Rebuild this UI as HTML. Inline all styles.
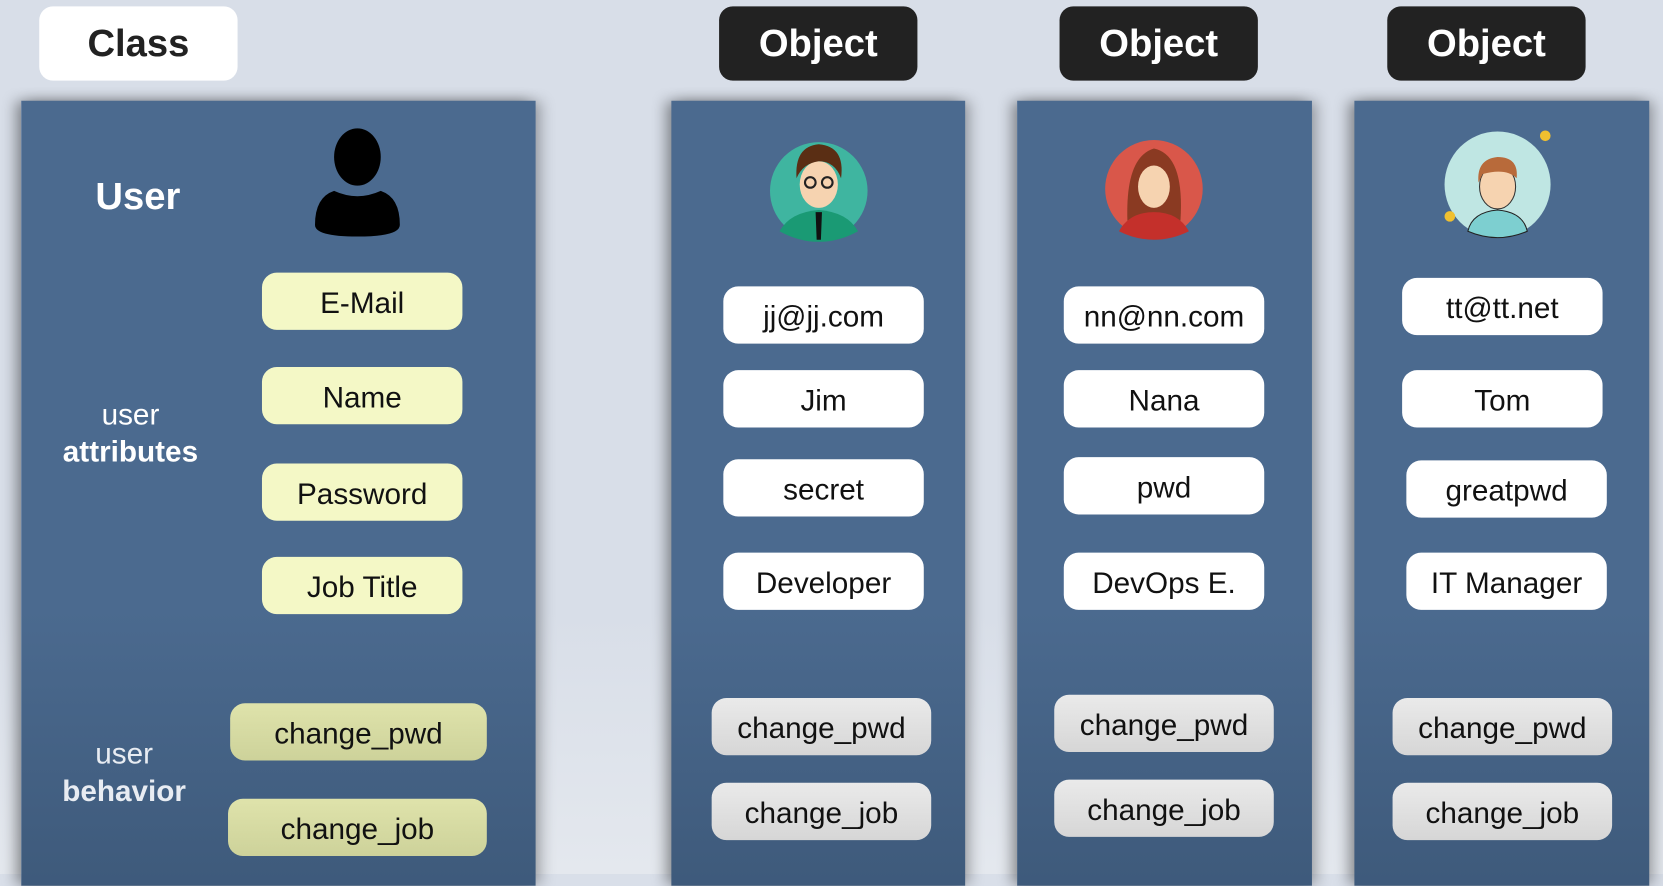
<!DOCTYPE html>
<html><head><meta charset="utf-8"><style>
*{margin:0;padding:0;box-sizing:border-box}
html,body{width:1663px;height:874px;overflow:hidden;background:#d9dfe9}
#w{position:absolute;left:0;top:0;width:1568px;height:824px;transform:scale(1.0606,1.0607);transform-origin:0 0;font-family:"Liberation Sans",sans-serif;background:linear-gradient(#d8dee8 0%,#d8dee8 70%,#e4e8ee 100%)}
.p{position:absolute;top:95px;height:740px;background:linear-gradient(#4b6a8f 0%,#4b6a8f 65%,#3e5a7b 100%);box-shadow:-6px 0 12px rgba(0,0,0,.35),6px 0 12px rgba(0,0,0,.25)}
.lab{position:absolute;top:6px;height:70px;border-radius:13px;font-weight:bold;font-size:36px;display:flex;align-items:center;justify-content:center}
.o{background:#222;color:#fff;width:187px}
.b{position:absolute;height:54px;border-radius:14px;display:flex;align-items:center;justify-content:center;font-size:28px;color:#111;padding-top:3px}
.y{background:#f4f8c6}
.g{background:linear-gradient(#dfe3ab,#cdd29a)}
.wt{background:#fff}
.gr{background:linear-gradient(#eaeaea,#d6d6d6)}
.t{position:absolute;color:#fff;text-align:center;line-height:35px}
</style></head><body><div id="w">
<div class="lab" style="left:37px;width:187px;background:#fff;color:#222">Class</div>
<div class="lab o" style="left:678px">Object</div>
<div class="lab o" style="left:999px">Object</div>
<div class="lab o" style="left:1308px">Object</div>

<div class="p" style="left:20px;width:485px"></div>
<div class="p" style="left:633px;width:277px"></div>
<div class="p" style="left:959px;width:278px"></div>
<div class="p" style="left:1277px;width:278px"></div>

<div class="t" style="left:70px;top:167px;width:120px;font-size:36px;font-weight:bold">User</div>
<svg style="position:absolute;left:295px;top:120px" width="84" height="105" viewBox="0 0 84 105"><ellipse cx="42" cy="28" rx="22" ry="27" fill="#000"/><path d="M20 60 Q42 70 64 60 Q82 66 82 92 Q82 103 42 103 Q2 103 2 92 Q2 66 20 60Z" fill="#000"/></svg>
<div class="t" style="left:40px;top:373px;width:166px;font-size:28px">user<br><b>attributes</b></div>
<div class="t" style="left:30px;top:693px;width:174px;font-size:28px;color:#e8ecf2">user<br><b>behavior</b></div>
<div class="b y" style="left:247px;top:257px;width:189px">E-Mail</div>
<div class="b y" style="left:247px;top:346px;width:189px">Name</div>
<div class="b y" style="left:247px;top:437px;width:189px">Password</div>
<div class="b y" style="left:247px;top:525px;width:189px">Job Title</div>
<div class="b g" style="left:217px;top:663px;width:242px">change_pwd</div>
<div class="b g" style="left:215px;top:753px;width:244px">change_job</div>

<svg style="position:absolute;left:725px;top:128px" width="94" height="100"><circle cx="47" cy="52" r="46" fill="#3fb5a0"/><path d="M10 90 Q20 72 47 70 Q74 72 84 90 Q66 100 47 100 Q28 100 10 90Z" fill="#1a9a74"/><path d="M44 72 L50 72 L49 98 L45 98Z" fill="#111"/><ellipse cx="47" cy="46" rx="18" ry="22" fill="#f6d3b0"/><path d="M26 40 Q24 10 47 8 Q72 10 68 40 Q62 24 47 24 Q32 26 26 40Z" fill="#5a2e14"/><circle cx="39" cy="44" r="5" fill="none" stroke="#222" stroke-width="2"/><circle cx="55" cy="44" r="5" fill="none" stroke="#222" stroke-width="2"/></svg>
<svg style="position:absolute;left:1041px;top:128px" width="94" height="100"><circle cx="47" cy="50" r="46" fill="#d9574a"/><path d="M22 80 Q20 20 47 12 Q76 18 72 80Z" fill="#8a3a22"/><path d="M14 90 Q24 72 47 72 Q70 72 80 90 Q64 98 47 98 Q30 98 14 90Z" fill="#c4302b"/><ellipse cx="47" cy="48" rx="15" ry="20" fill="#f6d3b0"/></svg>
<svg style="position:absolute;left:1358px;top:118px" width="110" height="110"><circle cx="54" cy="56" r="50" fill="#bfe6e3"/><circle cx="99" cy="10" r="5" fill="#f0c030"/><circle cx="9" cy="86" r="5" fill="#f0c030"/><path d="M26 100 Q30 82 54 80 Q78 82 82 100 Q68 106 54 106 Q40 106 26 100Z" fill="#7dcfd0" stroke="#222"/><ellipse cx="54" cy="58" rx="17" ry="21" fill="#f6d3b0" stroke="#333"/><path d="M36 54 Q34 32 54 30 Q74 30 72 50 Q62 40 40 46Z" fill="#b86a3a"/></svg>

<div class="b wt" style="left:682px;top:270px;width:189px">jj@jj.com</div>
<div class="b wt" style="left:682px;top:349px;width:189px">Jim</div>
<div class="b wt" style="left:682px;top:433px;width:189px">secret</div>
<div class="b wt" style="left:682px;top:521px;width:189px">Developer</div>
<div class="b gr" style="left:671px;top:658px;width:207px">change_pwd</div>
<div class="b gr" style="left:671px;top:738px;width:207px">change_job</div>

<div class="b wt" style="left:1003px;top:270px;width:189px">nn@nn.com</div>
<div class="b wt" style="left:1003px;top:349px;width:189px">Nana</div>
<div class="b wt" style="left:1003px;top:431px;width:189px">pwd</div>
<div class="b wt" style="left:1003px;top:521px;width:189px">DevOps E.</div>
<div class="b gr" style="left:994px;top:655px;width:207px">change_pwd</div>
<div class="b gr" style="left:994px;top:735px;width:207px">change_job</div>

<div class="b wt" style="left:1322px;top:262px;width:189px">tt@tt.net</div>
<div class="b wt" style="left:1322px;top:349px;width:189px">Tom</div>
<div class="b wt" style="left:1326px;top:434px;width:189px">greatpwd</div>
<div class="b wt" style="left:1326px;top:521px;width:189px">IT Manager</div>
<div class="b gr" style="left:1313px;top:658px;width:207px">change_pwd</div>
<div class="b gr" style="left:1313px;top:738px;width:207px">change_job</div>
</div></body></html>
